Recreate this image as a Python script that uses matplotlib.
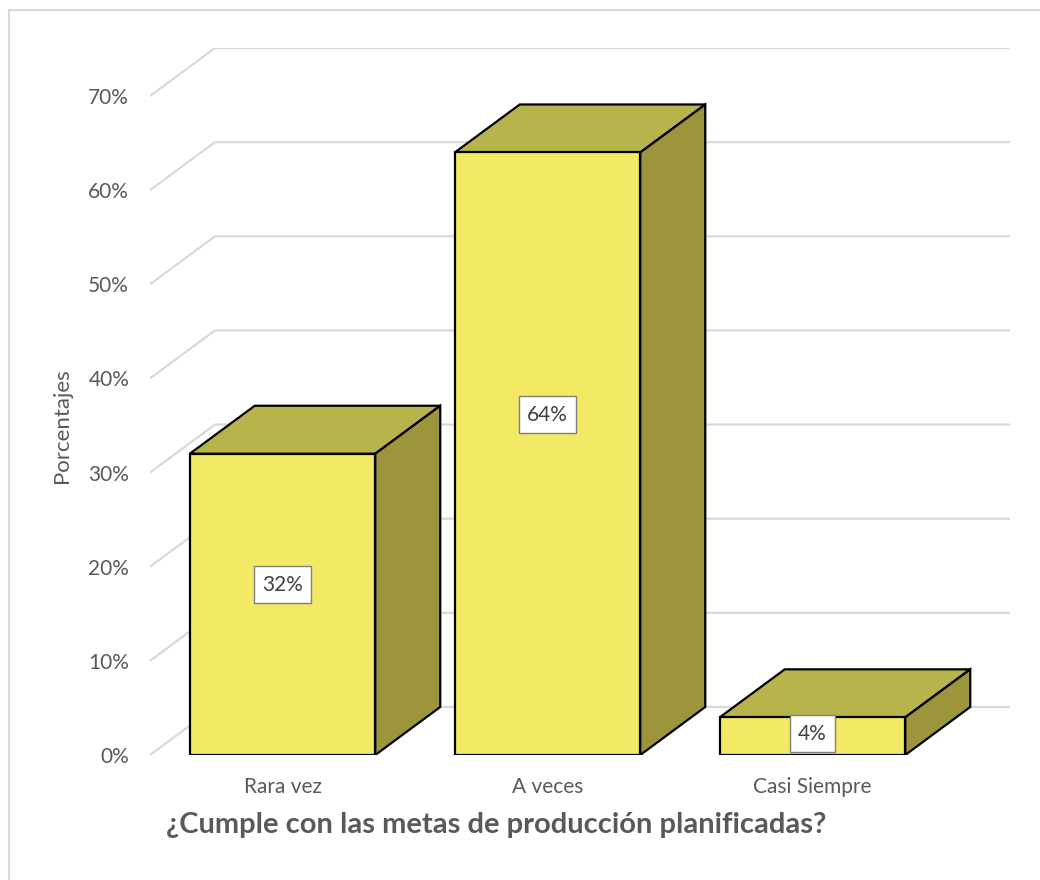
import numpy as np
import matplotlib.pyplot as plt
from matplotlib.patches import Polygon, Rectangle

categories = ['Rara vez', 'A veces', 'Casi Siempre']
values = [32, 64, 4]
labels = ['32%', '64%', '4%']
yticks = [0, 10, 20, 30, 40, 50, 60, 70]

plt.rcParams['font.family'] = ['Lato', 'DejaVu Sans']

W, H = 1040, 880
fig = plt.figure(figsize=(W / 100, H / 100), dpi=100)

# depth offset of the 3D box (in data units)
dx = 65 / 265
dy = 5.1
bar_w = 0.70

ax = fig.add_axes([150 / W, (H - 755) / H, 860 / W, 707 / H])
ax.set_xlim(0, 3 + dx)
ax.set_ylim(0, 70 + dy)
for s in ax.spines.values():
    s.set_visible(False)
ax.set_xticks([])
ax.set_yticks(yticks)
ax.set_yticklabels([str(t) + '%' for t in yticks], color='#595959', fontsize=15)
ax.tick_params(axis='y', length=0, pad=15)

# gridlines: side wall diagonal + back wall
grid_c = '#d9d9d9'
for t in yticks:
    ax.plot([0, dx, 3 + dx], [t, t + dy, t + dy], color=grid_c, lw=1.6, zorder=1,
            solid_capstyle='butt')

front_c = '#f2ea64'
top_c = '#b8b44c'
side_c = '#9c953c'
for i, v in enumerate(values):
    x0 = i + 0.5 - bar_w / 2
    x1 = i + 0.5 + bar_w / 2
    top = Polygon([(x0, v), (x1, v), (x1 + dx, v + dy), (x0 + dx, v + dy)],
                  closed=True, fc=top_c, ec='black', lw=1.6, zorder=3)
    side = Polygon([(x1, 0), (x1 + dx, dy), (x1 + dx, v + dy), (x1, v)],
                   closed=True, fc=side_c, ec='black', lw=1.6, zorder=3)
    front = Rectangle((x0, 0), bar_w, v, fc=front_c, ec='black', lw=1.6, zorder=4)
    ax.add_patch(top)
    ax.add_patch(side)
    ax.add_patch(front)
    ax.text(i + 0.5, v * 0.565, labels[i], ha='center', va='center', fontsize=15,
            color='#404040', zorder=6,
            bbox=dict(boxstyle='square,pad=0.4', fc='white', ec='#7f7f7f', lw=1))
    ax.text(i + 0.5, -3.4, categories[i], ha='center', va='center', fontsize=15,
            color='#595959')

ax.set_ylabel('Porcentajes', color='#595959', fontsize=16)
ax.yaxis.set_label_coords(-78 / 860, 329 / 707)
fig.text(0.477, (H - 825) / H, '¿Cumple con las metas de producción planificadas?',
         ha='center', va='center', fontsize=21, fontweight='bold', color='#595959')

# outer chart border
fig.patches.append(Rectangle((9 / W, -0.05), 1.1, (H - 10) / H + 0.05,
                             transform=fig.transFigure, fill=False,
                             ec='#d9d9d9', lw=1.5))

fig.savefig('out.png', dpi=100)
